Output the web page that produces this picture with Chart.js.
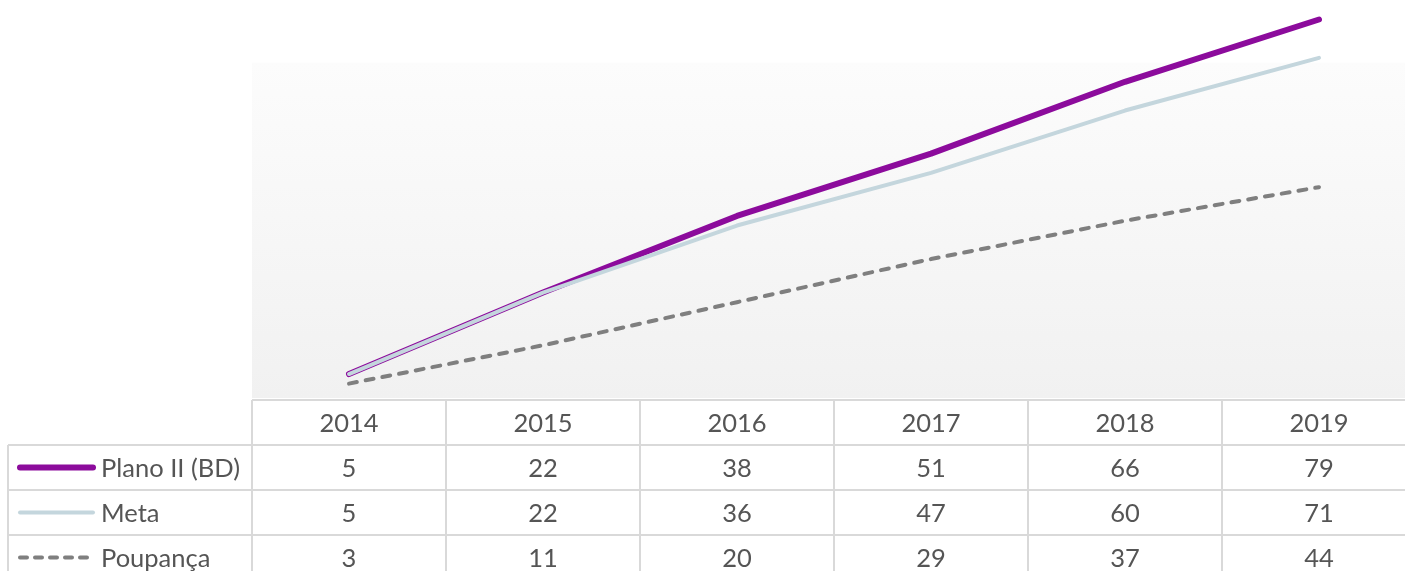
<!DOCTYPE html>
<html>
<head>
<meta charset="utf-8">
<script src="https://cdn.jsdelivr.net/npm/chart.js@4.4.1/dist/chart.umd.min.js"></script>
<style>
  html, body { margin: 0; padding: 0; background: #ffffff; overflow: hidden; }
  #wrap { width: 1420px; height: 571px; }
</style>
</head>
<body>
<div id="wrap"><canvas id="c" width="1420" height="571"></canvas></div>
<script>
const years = ['2014', '2015', '2016', '2017', '2018', '2019'];
const planoII = [5, 22, 38, 51, 66, 79];
const meta = [5, 22, 36, 47, 60, 71];
const poupanca = [3, 11, 20, 29, 37, 44];
const seriesNames = ['Plano II (BD)', 'Meta', 'Poupança'];

const COLORS = { plano: '#8c0b9c', meta: '#c4d6dd', poup: '#7f7f7f', text: '#555555', grid: '#d9d9d9' };
const FONT = '25.5px Lato, "Open Sans", sans-serif';

const bgPlugin = {
  id: 'bg',
  beforeDraw(chart) {
    const { ctx, chartArea } = chart;
    const top = chart.scales.y.getPixelForValue(70);
    const g = ctx.createLinearGradient(0, top, 0, chartArea.bottom);
    g.addColorStop(0, '#fcfcfc');
    g.addColorStop(1, '#f1f1f1');
    ctx.save();
    ctx.fillStyle = g;
    ctx.fillRect(chartArea.left, top, chartArea.right - chartArea.left, chartArea.bottom - top);
    ctx.restore();
  }
};

const tablePlugin = {
  id: 'dataTable',
  afterDraw(chart) {
    const { ctx, chartArea } = chart;
    const x = chart.scales.x;
    const left = chartArea.left, right = chartArea.right;
    const colW = (right - left) / years.length;
    const tableLeft = 8;
    const rowH = 45;
    const headTop = chartArea.bottom + 2;
    const rowsTop = headTop + rowH;
    const rows = [planoII, meta, poupanca];
    const styles = [
      { color: COLORS.plano, width: 6, dash: [] },
      { color: COLORS.meta, width: 4, dash: [] },
      { color: COLORS.poup, width: 4, dash: [7, 8] }
    ];
    ctx.save();
    ctx.strokeStyle = COLORS.grid;
    ctx.lineWidth = 2;
    ctx.beginPath();
    ctx.moveTo(left, headTop); ctx.lineTo(right, headTop);
    for (let r = 0; r <= rows.length; r++) {
      const y = rowsTop + r * rowH;
      ctx.moveTo(tableLeft, y); ctx.lineTo(right, y);
    }
    const bottom = rowsTop + rows.length * rowH;
    ctx.moveTo(tableLeft, rowsTop); ctx.lineTo(tableLeft, bottom);
    for (let i = 0; i <= years.length; i++) {
      const vx = left + i * colW;
      ctx.moveTo(vx, headTop); ctx.lineTo(vx, bottom);
    }
    ctx.stroke();

    ctx.fillStyle = COLORS.text;
    ctx.font = FONT;
    ctx.textAlign = 'center';
    ctx.textBaseline = 'middle';
    years.forEach((yr, i) => {
      ctx.fillText(yr, x.getPixelForValue(i), headTop + rowH / 2 + 1);
    });
    rows.forEach((vals, r) => {
      const cy = rowsTop + r * rowH + rowH / 2 + 1;
      vals.forEach((v, i) => ctx.fillText(String(v), x.getPixelForValue(i), cy));
    });
    rows.forEach((vals, r) => {
      const cy = rowsTop + r * rowH + rowH / 2;
      const s = styles[r];
      ctx.save();
      ctx.strokeStyle = s.color;
      ctx.lineWidth = s.width;
      ctx.lineCap = 'round';
      ctx.setLineDash(s.dash);
      ctx.beginPath();
      ctx.moveTo(20, cy); ctx.lineTo(93, cy);
      ctx.stroke();
      ctx.restore();
      ctx.textAlign = 'left';
      ctx.fillText(seriesNames[r], 101, cy + 1);
    });
    ctx.restore();
  }
};

new Chart(document.getElementById('c'), {
  type: 'line',
  data: {
    labels: years,
    datasets: [
      { label: seriesNames[0], data: planoII, borderColor: COLORS.plano, borderWidth: 6, order: 3 },
      { label: seriesNames[1], data: meta, borderColor: COLORS.meta, borderWidth: 4, order: 2 },
      { label: seriesNames[2], data: poupanca, borderColor: COLORS.poup, borderWidth: 4, borderDash: [8, 9], order: 1 }
    ]
  },
  options: {
    responsive: false,
    animation: false,
    devicePixelRatio: 1,
    layout: { padding: { left: 252, right: 4, top: 0, bottom: 173 } },
    elements: {
      line: { tension: 0, borderCapStyle: 'round', borderJoinStyle: 'round', fill: false },
      point: { radius: 0, hoverRadius: 0 }
    },
    plugins: { legend: { display: false }, tooltip: { enabled: false } },
    scales: {
      x: { display: false, offset: true, grid: { display: false } },
      y: { display: false, min: 0, max: 83.07 }
    }
  },
  plugins: [bgPlugin, tablePlugin]
});
</script>
</body>
</html>
